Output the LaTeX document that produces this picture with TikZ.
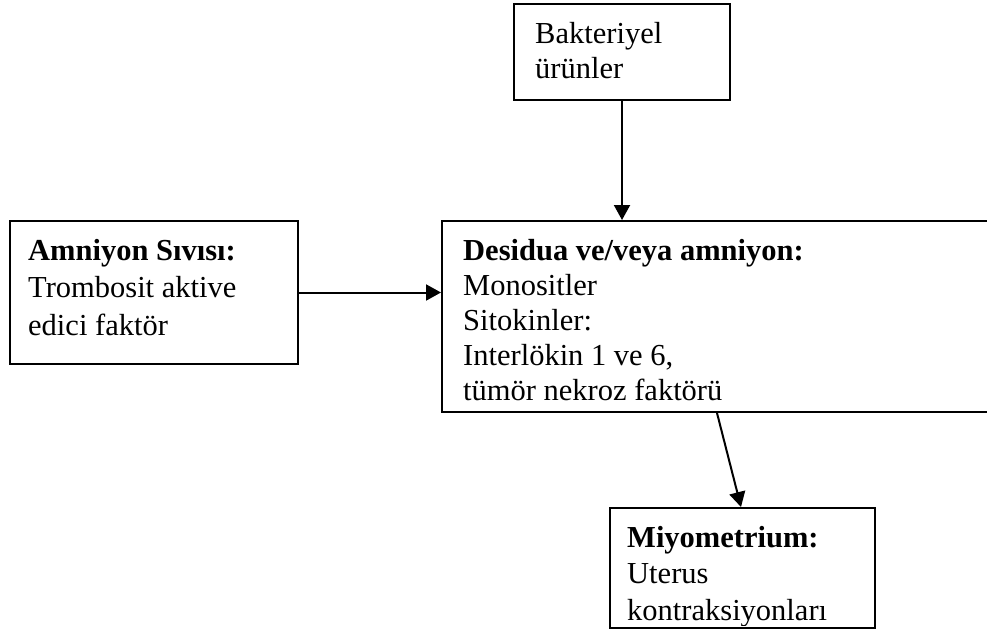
\documentclass[tikz,border=0pt]{standalone}
\usepackage{fontspec}
\setmainfont{Liberation Serif}
\usetikzlibrary{arrows.meta,calc}
\begin{document}
\begin{tikzpicture}[x=1pt,y=-1pt,
  box/.style={draw,line width=2pt,rectangle,inner sep=0pt},
  txt/.style={anchor=base west,align=left,inner sep=0pt},
  arr/.style={line width=2pt,-{Triangle[length=15pt,width=16pt]}}]
\useasboundingbox (0,0) rectangle (987,629);
% boxes
\node[box,minimum width=216pt,minimum height=96pt] (bak) at (622,52) {};
\node[box,minimum width=553pt,minimum height=191pt] (des) at (718.5,316.5) {};
\node[box,minimum width=288pt,minimum height=143pt] (amn) at (154,292.5) {};
\node[box,minimum width=265pt,minimum height=120pt] (miy) at (742.5,568) {};
% texts (anchor = baseline of last line)
\node[txt,font={\fontsize{30.5}{35}\selectfont}] (tbak) at (535,78) {Bakteriyel\\ürünler};
\node[txt,font={\fontsize{30.5}{35}\selectfont}] (tdes) at (463,400) {\textbf{Desidua ve/veya amniyon:}\\Monositler\\Sitokinler:\\Interlökin 1 ve 6,\\tümör nekroz faktörü};
\node[txt,font={\fontsize{30.5}{37.5}\selectfont}] (tamn) at (28,335) {\textbf{Amniyon Sıvısı:}\\Trombosit aktive\\edici faktör};
\begin{scope}
\clip (610,508) rectangle (875,625);
\node[txt,font={\fontsize{30.5}{36.5}\selectfont}] (tmiy) at (627,620) {\textbf{Miyometrium:}\\Uterus\\kontraksiyonları};
\end{scope}
% connectors
\draw[arr] (bak.south) -- (bak.south |- des.north);
\draw[arr] (amn.east) -- (amn.east -| des.west);
\draw[arr] ($(des.south west)+(276,0)$) -- ($(miy.north west)+(132,0)$);
\end{tikzpicture}
\end{document}
